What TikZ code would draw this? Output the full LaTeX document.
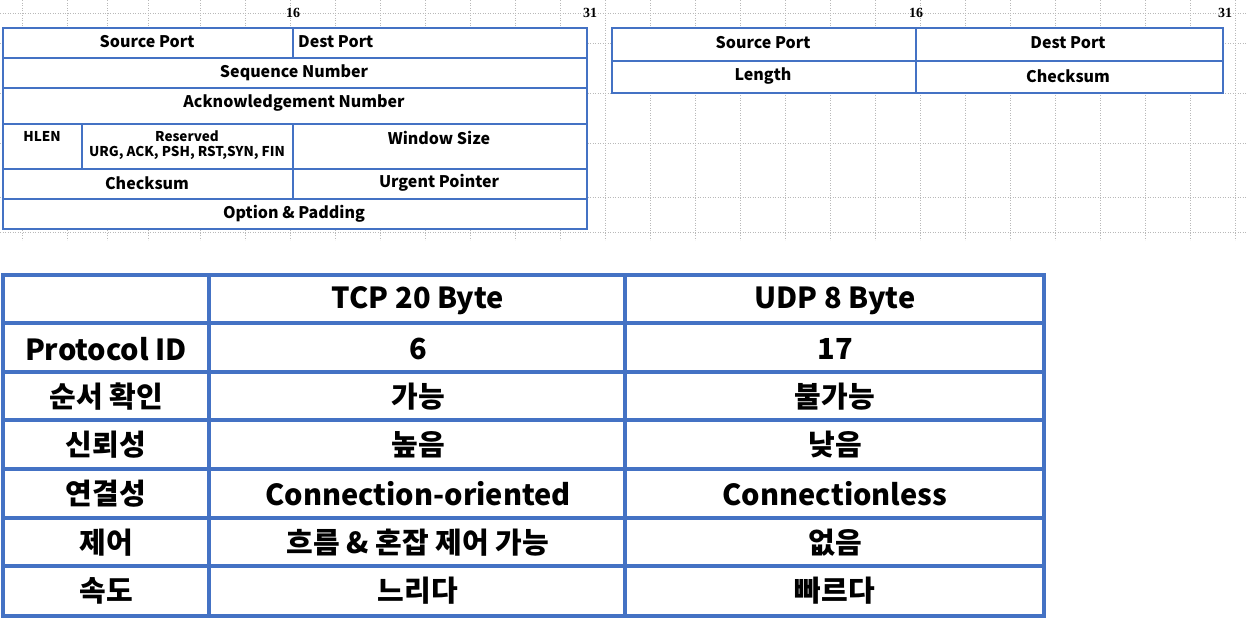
\documentclass[tikz,border=0pt]{standalone}
\usepackage{fontspec}
\setmainfont{Noto Sans CJK KR}
\newfontfamily\numfont{Liberation Serif}
\begin{document}
\begin{tikzpicture}[x=1pt,y=-1pt,
  cell/.style={draw=tblue,line width=2.2pt},
  bigcell/.style={draw=tblue,line width=3.5pt},
  sm/.style={font=\fontsize{16}{18}\selectfont\bfseries,inner sep=0},
  tiny/.style={font=\fontsize{13.5}{15}\selectfont\bfseries,inner sep=0,align=center},
  big/.style={font=\fontsize{29}{32}\selectfont\bfseries,inner sep=0},
  num/.style={font=\fontsize{14}{16}\selectfont\numfont\bfseries,inner sep=0},
  grid/.style={gray!55,dotted,line width=0.5pt}]
\definecolor{tblue}{HTML}{4472C4}
\useasboundingbox (0,0) rectangle (1246,625);
% spreadsheet grid
\foreach \x in {22,67,107,148,200,245,290,335,380,425,470,515,560,605,650,695,740,785,830,875,920,965,1010,1055,1100,1145,1190,1235}
  \draw[grid] (\x,0) -- (\x,240);
\foreach \y in {13,43,93,143,197,232}
  \draw[grid] (0,\y) -- (1246,\y);
% TCP header
\node[num] (t16) at (293,13) {16};
\node[num] (t31) at (590,13) {31};
\draw[cell,fill=white] (3,28) rectangle (587,229);
\foreach \y in {58,88,124,169,199} \draw[cell] (3,\y) -- (587,\y);
\draw[cell] (293,28) -- (293,58);
\draw[cell] (293,124) -- (293,199);
\draw[cell] (82,124) -- (82,169);
\node[sm] (sp) at (147,42) {Source Port};
\node[sm,anchor=west] (dp) at (298,42) {Dest Port};
\node[sm] (seq) at (294,73) {Sequence Number};
\node[sm] (ack) at (294,103) {Acknowledgement Number};
\node[tiny] (hlen) at (42,136) {HLEN};
\node[tiny] (res) at (187,145) {Reserved\\URG, ACK, PSH, RST,SYN, FIN};
\node[sm] (win) at (439,138) {Window Size};
\node[sm] (cks) at (147,183) {Checksum};
\node[sm] (urg) at (439,183) {Urgent Pointer};
\node[sm] (opt) at (294,214) {Option \& Padding};
% UDP header
\node[num] (u16) at (916,13) {16};
\node[num] (u31) at (1225,13) {31};
\draw[cell,fill=white] (612,28) rectangle (1223,93);
\draw[cell] (612,61) -- (1223,61);
\draw[cell] (916,28) -- (916,93);
\node[sm] (usp) at (763,43) {Source Port};
\node[sm] (udp) at (1068,43) {Dest Port};
\node[sm] (ulen) at (763,76) {Length};
\node[sm] (ucks) at (1068,76) {Checksum};
% comparison table
\draw[bigcell,fill=white] (3,275) rectangle (1044,616);
\foreach \y in {323,372,420,469,518,566} \draw[bigcell] (3,\y) -- (1044,\y);
\draw[bigcell] (209,275) -- (209,616);
\draw[bigcell] (625,275) -- (625,616);
\node[big] (h1) at (418,301) {TCP 20 Byte};
\node[big] (h2) at (835,301) {UDP 8 Byte};
\node[big] (r1) at (106,349) {Protocol ID};
\node[big] (r1a) at (418,349) {6};
\node[big] (r1b) at (835,349) {17};
\node[big] (r2) at (106,397) {순서 확인};
\node[big] (r2a) at (418,397) {가능};
\node[big] (r2b) at (835,397) {불가능};
\node[big] (r3) at (106,445) {신뢰성};
\node[big] (r3a) at (418,445) {높음};
\node[big] (r3b) at (835,445) {낮음};
\node[big] (r4) at (106,494) {연결성};
\node[big] (r4a) at (418,494) {Connection-oriented};
\node[big] (r4b) at (835,494) {Connectionless};
\node[big] (r5) at (106,543) {제어};
\node[big] (r5a) at (418,543) {흐름 \& 혼잡 제어 가능};
\node[big] (r5b) at (835,543) {없음};
\node[big] (r6) at (106,591) {속도};
\node[big] (r6a) at (418,591) {느리다};
\node[big] (r6b) at (835,591) {빠르다};
\end{tikzpicture}
\end{document}
